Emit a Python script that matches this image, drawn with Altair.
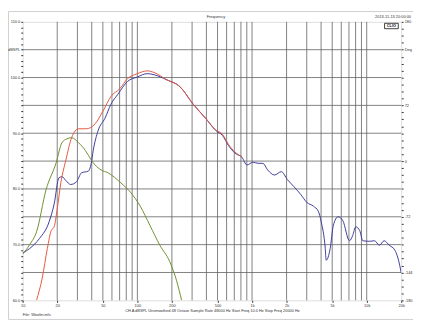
import altair as alt
import pandas as pd

# ---- data (frequency in Hz, level in dB SPL) ----
blue_hz = [10, 11.5, 14.0, 17.0, 18.8, 20.7, 22.0, 23.8, 26.2, 29.5, 32.6, 37.3, 39.6, 41.2,
           45.5, 52.2, 58.8, 67.6, 82.1, 100, 122, 140, 180, 234, 307, 397, 482, 552, 623,
           712, 815, 903, 1020, 1130, 1240, 1370, 1570, 1800, 2030, 2320, 2660, 3000, 3430,
           3780, 4010, 4350, 4430, 4800, 5110, 5620, 6190, 7080, 7530, 8030, 8700, 9240,
           10600, 11700, 12900, 14200, 15700, 17600, 19400, 20000]
blue_db = [68.5, 69.3, 71.1, 74.1, 77.3, 82.0, 82.2, 81.5, 80.8, 81.3, 82.9, 83.2, 84.6, 86.9,
           90.5, 92.7, 95.2, 97.0, 99.3, 100.1, 100.7, 100.5, 99.6, 98.4, 95.2, 92.6, 90.5, 89.6, 87.8,
           86.4, 85.7, 84.3, 84.8, 84.6, 84.6, 83.4, 82.5, 83.1, 81.7, 80.4, 79.0, 77.6, 76.9,
           76.0, 74.1, 69.3, 67.2, 69.3, 73.4, 75.0, 74.3, 70.7, 71.6, 73.2, 72.5, 70.7,
           70.6, 70.7, 69.9, 70.7, 69.9, 69.0, 66.3, 64.9]

red_hz = [13.2, 14.8, 16.4, 17.7, 18.8, 20.0, 21.5, 23.8, 26.7, 30.7, 35.9, 42.8, 50.2, 58.8,
          70.3, 82.1, 100, 122, 140, 180, 234, 307, 397, 482, 552, 623, 712, 815]
red_db = [60.0, 64.0, 69.3, 72.5, 73.2, 76.4, 81.1, 85.2, 89.2, 90.8, 90.8, 91.7, 94.0, 96.6,
          98.0, 99.8, 100.7, 101.2, 100.9, 99.6, 98.4, 95.2, 92.6, 90.6, 89.8, 88.0, 86.6, 85.8]

green_hz = [10, 11.5, 13.2, 16.0, 19.5, 22.0, 24.3, 26.7, 30.7, 35.2, 39.6, 42.8, 48.3, 55.4,
            71.7, 87.1, 106, 129, 157, 191, 220, 243]
green_db = [68.3, 70.0, 72.3, 79.9, 84.6, 88.3, 89.0, 89.2, 88.3, 86.9, 85.2, 84.3, 83.4, 82.9,
            81.1, 79.4, 76.9, 73.4, 69.9, 67.0, 63.5, 60.0]

x_grid_hz = [20, 30, 40, 50, 60, 70, 80, 90, 100, 200, 300, 400, 500, 600, 700, 800, 900,
             1000, 2000, 3000, 4000, 5000, 6000, 7000, 8000, 9000, 10000]
y_grid_db = [65, 70, 75, 80, 85, 90, 95, 100, 105]
x_label_hz = [10, 20, 50, 100, 200, 500, 1000, 2000, 5000, 10000, 20000]
y_tick_db = list(range(60, 111))
phase_tick_deg = list(range(-180, 181, 9))

title_text = "Frequency"
date_text = "2013-11-13 20:00:00"
info_text = "CH A   dBSPL   Unsmoothed   48 Octave   Sample Rate 48000 Hz   Start Freq 10.0 Hz   Stop Freq 20000 Hz"
file_text = "File: Woofer.mls"

W, H = 386, 284
FONT = "Liberation Sans"
GRID = "#606060"
TXT = "#333333"

x_scale = alt.Scale(type="log", domain=[10, 20000], nice=False)
y_scale = alt.Scale(domain=[60, 110], nice=False, zero=False)

x_axis = alt.Axis(values=x_label_hz,
                  labelExpr="datum.value >= 1000 ? (datum.value / 1000) + 'k' : datum.value + ''",
                  labelFontSize=4, labelColor=TXT, labelFont=FONT, tickSize=2, tickColor=TXT,
                  domain=False, grid=False, labelPadding=1, labelFlush=False, labelOverlap=False,
                  title=info_text, titleFontSize=4, titleFontWeight="normal", titleFont=FONT,
                  titlePadding=1, titleColor=TXT, zindex=1)
y_axis = alt.Axis(values=y_tick_db,
                  labelExpr="datum.value == 105 ? 'dBSPL' : (datum.value % 10 == 0 ? format(datum.value, '.1f') : '')",
                  labelFontSize=4, labelColor=TXT, labelFont=FONT, tickSize=2, tickColor=TXT,
                  domain=False, grid=False, labelPadding=1, labelFlush=False, labelOverlap=False,
                  title=None, zindex=1)


def curve(hz, db, color):
    df = pd.DataFrame({"hz": hz, "db": db})
    return alt.Chart(df).mark_line(color=color, strokeWidth=1, interpolate="monotone", clip=True).encode(
        x=alt.X("hz:Q", scale=x_scale, axis=x_axis),
        y=alt.Y("db:Q", scale=y_scale, axis=y_axis),
    )


vgrid = alt.Chart(pd.DataFrame({"hz": x_grid_hz})).mark_rule(color=GRID, strokeWidth=0.8).encode(
    x=alt.X("hz:Q", scale=x_scale, axis=x_axis))
hgrid = alt.Chart(pd.DataFrame({"db": y_grid_db})).mark_rule(color=GRID, strokeWidth=0.8).encode(
    y=alt.Y("db:Q", scale=y_scale, axis=y_axis))

main = alt.layer(
    hgrid, vgrid,
    curve(blue_hz, blue_db, "#3c3c9c"),
    curve(red_hz, red_db, "#e2583e"),
    curve(green_hz, green_db, "#6f902f"),
)

phase = alt.Chart(pd.DataFrame({"deg": phase_tick_deg})).mark_point(opacity=0).encode(
    y=alt.Y("deg:Q", scale=alt.Scale(domain=[-180, 180], nice=False, zero=False),
            axis=alt.Axis(orient="right", values=phase_tick_deg,
                          labelExpr="datum.value == 144 ? 'Deg' : (indexof([180, 72, 0, -72, -144, -180], datum.value) >= 0 ? datum.value + '' : '')",
                          labelFontSize=4, labelColor=TXT, labelFont=FONT, tickSize=2, tickColor=TXT,
                          domain=False, grid=False, labelPadding=1, labelFlush=False,
                          labelOverlap=False, title=None, zindex=1)))

base = alt.Chart(pd.DataFrame({"k": [0]}))
border = base.mark_rect(fillOpacity=0, stroke="#cfcfcf", strokeWidth=1).encode(
    x=alt.value(-14.5), x2=alt.value(W + 40), y=alt.value(-10.5), y2=alt.value(H + 19.5))
title_mark = base.mark_text(align="center", baseline="middle", fontSize=4, font=FONT, color=TXT).encode(
    x=alt.value(W / 2 + 4), y=alt.value(-5), text=alt.value(title_text))
date_mark = base.mark_text(align="right", baseline="middle", fontSize=4, font=FONT, color=TXT).encode(
    x=alt.value(W + 10), y=alt.value(-5), text=alt.value(date_text))
file_mark = base.mark_text(align="left", baseline="middle", fontSize=4, font=FONT, color=TXT).encode(
    x=alt.value(0), y=alt.value(H + 15), text=alt.value(file_text))
clio_box = base.mark_rect(fill="white", stroke="#111", strokeWidth=0.8).encode(
    x=alt.value(W - 17), x2=alt.value(W - 3), y=alt.value(1.5), y2=alt.value(7))
clio_mark = base.mark_text(align="center", baseline="middle", fontSize=4, font=FONT,
                           fontWeight="bold", color="#111").encode(
    x=alt.value(W - 10), y=alt.value(4.5), text=alt.value("CLIO"))

chart = alt.layer(border, main, phase, title_mark, date_mark, file_mark, clio_box, clio_mark).resolve_scale(
    y="independent"
).properties(
    width=W, height=H,
    autosize=alt.AutoSizeParams(type="none"),
    padding={"left": 15, "top": 11, "right": 12, "bottom": 20},
).configure_view(stroke="#333333", strokeWidth=1).configure(background="white")

chart.save("out.html", embed_options={"renderer": "svg", "actions": False})
